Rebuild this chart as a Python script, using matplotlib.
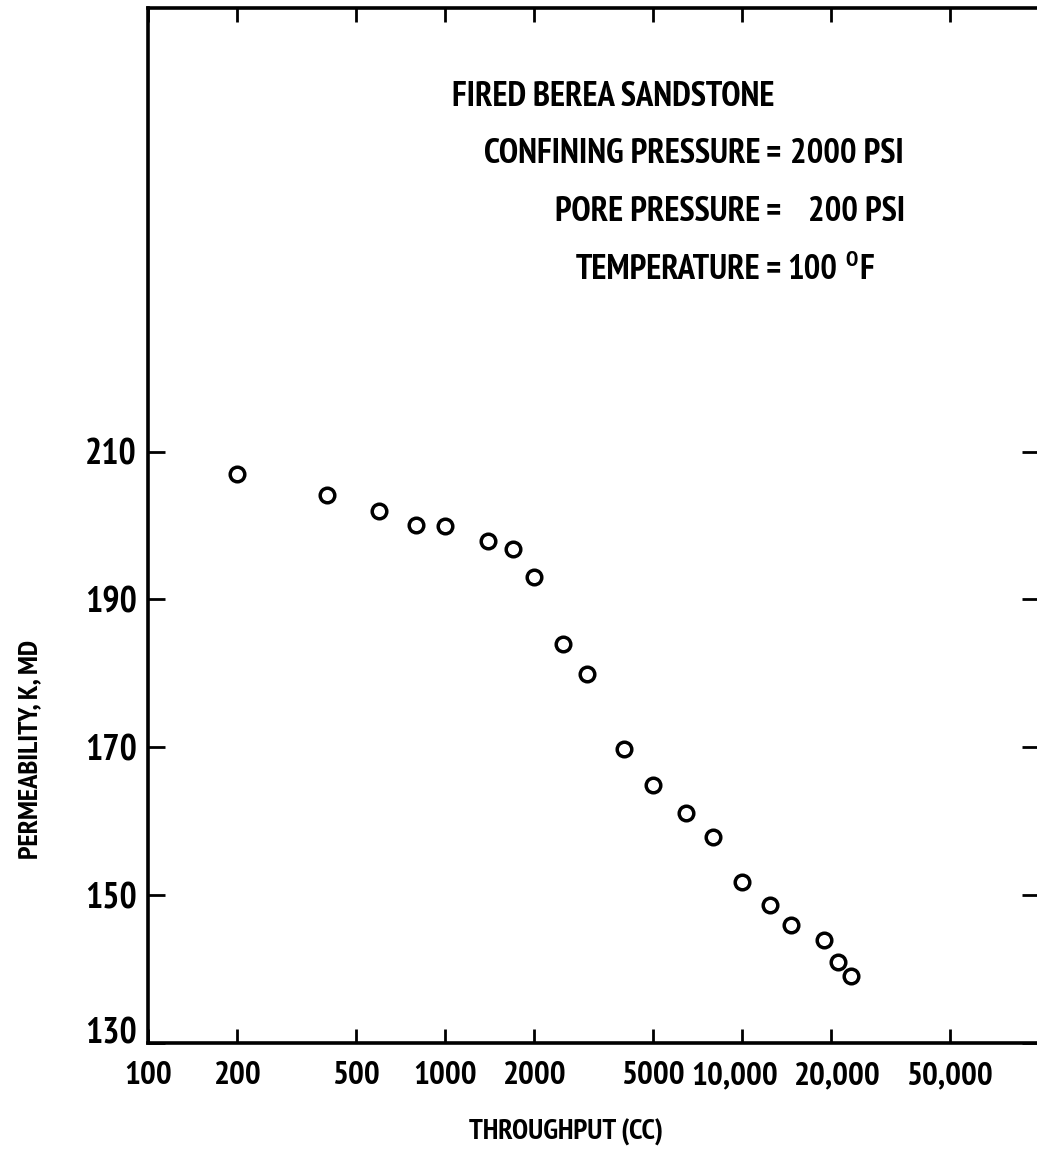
## Imports required libraries.
import numpy as np
import matplotlib
matplotlib.use('Agg')
import matplotlib.pyplot as plt
import matplotlib.font_manager as fm
import matplotlib.transforms as mtransforms


## Data: throughput (cc) and permeability (md).
throughput   = [200, 400, 600, 800, 1000, 1400, 1700, 2000, 2500, 3000,
                4000, 5000, 6500, 8000, 10000, 12400, 14600, 18900, 21000, 23300]
permeability = [207.0, 204.1, 202.0, 200.1, 200.0, 197.9, 196.8, 193.1, 184.0, 179.9,
                169.8, 164.9, 161.1, 157.8, 151.8, 148.7, 145.9, 143.9, 140.9, 139.0]

## Tick positions and labels.
xticks      = [100, 200, 500, 1000, 2000, 5000, 10000, 20000, 50000]
xticklabels = ['100', '200', '500', '1000', '2000', '5000', '10,000', '20,000', '50,000']
yticks      = [130, 150, 170, 190, 210]

## Annotation lines, split at the '=' sign.
note_title = 'FIRED BEREA SANDSTONE'
note_left  = ['CONFINING PRESSURE', 'PORE PRESSURE', 'TEMPERATURE']
note_right = ['2000 PSI', '200 PSI', '100']


## Looks for a narrow / condensed bold face among the installed fonts.
def narrow_bold():
    best = None
    for f in fm.fontManager.ttflist:
        fn = f.fname.lower()
        narrow = ('narrow' in fn) or ('condensed' in fn and 'semicondensed' not in fn
                                     and 'extracondensed' not in fn)
        bold = (f.weight in (700, 'bold')) or ('bold' in fn)
        if narrow and bold and 'italic' not in fn and 'oblique' not in fn:
            score = 0
            if 'narrow' in fn: score += 3
            if 'dejavu' in fn: score += 2
            if 'liberation' in fn: score += 2
            if 'noto' in fn: score += 1
            if best is None or score > best[0]:
                best = (score, f.fname)
    if best is None:
        return None
    return best[1]

fpath = narrow_bold()
def fprop(size):
    if fpath is None:
        return fm.FontProperties(family='DejaVu Sans', weight='bold', size=size)
    return fm.FontProperties(fname=fpath, size=size)


W, H = 1037, 1157
fig = plt.figure(figsize=(W/100, H/100), dpi=100)

## Axes placed in pixels; right spine falls just off the page.
ax = fig.add_axes([148/W, (H-1043)/H, 891/W, 1035/H])

ax.plot(throughput, permeability, linestyle='none', marker='o', markersize=10.5,
        markerfacecolor='none', markeredgecolor='black', markeredgewidth=2.5)

ax.set_xscale('log')
ax.set_xlim(100, 100000)
ax.set_ylim(130, 270)

ax.set_xticks(xticks)
ax.set_xticklabels(xticklabels)
ax.minorticks_off()
ax.set_yticks(yticks)

ax.tick_params(axis='x', which='major', direction='in', top=True, bottom=True,
               length=10, width=2, pad=13)
ax.tick_params(axis='y', which='major', direction='in', left=True, right=True,
               length=12, width=2, pad=8)
for lab in ax.get_xticklabels():
    lab.set_fontproperties(fprop(24))
for lab in ax.get_yticklabels():
    lab.set_fontproperties(fprop(26))
## The bottom '130' sits a little above the corner, as in the original.
ax.get_yticklabels()[0].set_verticalalignment('baseline')

## '10,000' and '20,000' are spread apart a little in the original.
xlabs = ax.get_xticklabels()
for idx, dx in [(6, -7), (7, 6)]:
    off = mtransforms.ScaledTranslation(dx/100, 0, fig.dpi_scale_trans)
    xlabs[idx].set_transform(xlabs[idx].get_transform() + off)

for sp in ax.spines.values():
    sp.set_linewidth(2.6)

## Annotation block.
fs = 25
fig.text(452/W, 1 - 97/H, note_title, fontproperties=fprop(fs), ha='left', va='center')
texts = []
x_right = [790, 808, 787]
for k, (l, r) in enumerate(zip(note_left, note_right)):
    yy = 1 - (154 + 58*k)/H
    fig.text(760/W, yy, l, fontproperties=fprop(fs), ha='right', va='center')
    fig.text(773/W, yy, '=', fontproperties=fprop(fs), ha='center', va='center')
    texts.append(fig.text(x_right[k]/W, yy, r, fontproperties=fprop(fs), ha='left', va='center'))

## Degree sign as a raised small 'O' followed by 'F'.
renderer = fig.canvas.get_renderer()
bb = texts[-1].get_window_extent(renderer)
yy = 1 - (154 + 58*2)/H
deg = fig.text((bb.x1 + 9)/W, yy + 10/H, 'O', fontproperties=fprop(16), ha='left', va='center')
bb2 = deg.get_window_extent(renderer)
fig.text((bb2.x1 + 1)/W, yy, 'F', fontproperties=fprop(fs), ha='left', va='center')

## Axis labels.
fig.text(566/W, 1 - 1132/H, 'THROUGHPUT (CC)', fontproperties=fprop(21), ha='center', va='center')
fig.text(30/W, 1 - 749/H, 'PERMEABILITY, K, MD', fontproperties=fprop(20.5), ha='center', va='center',
         rotation=90)

plt.savefig('out.png', dpi=100)
